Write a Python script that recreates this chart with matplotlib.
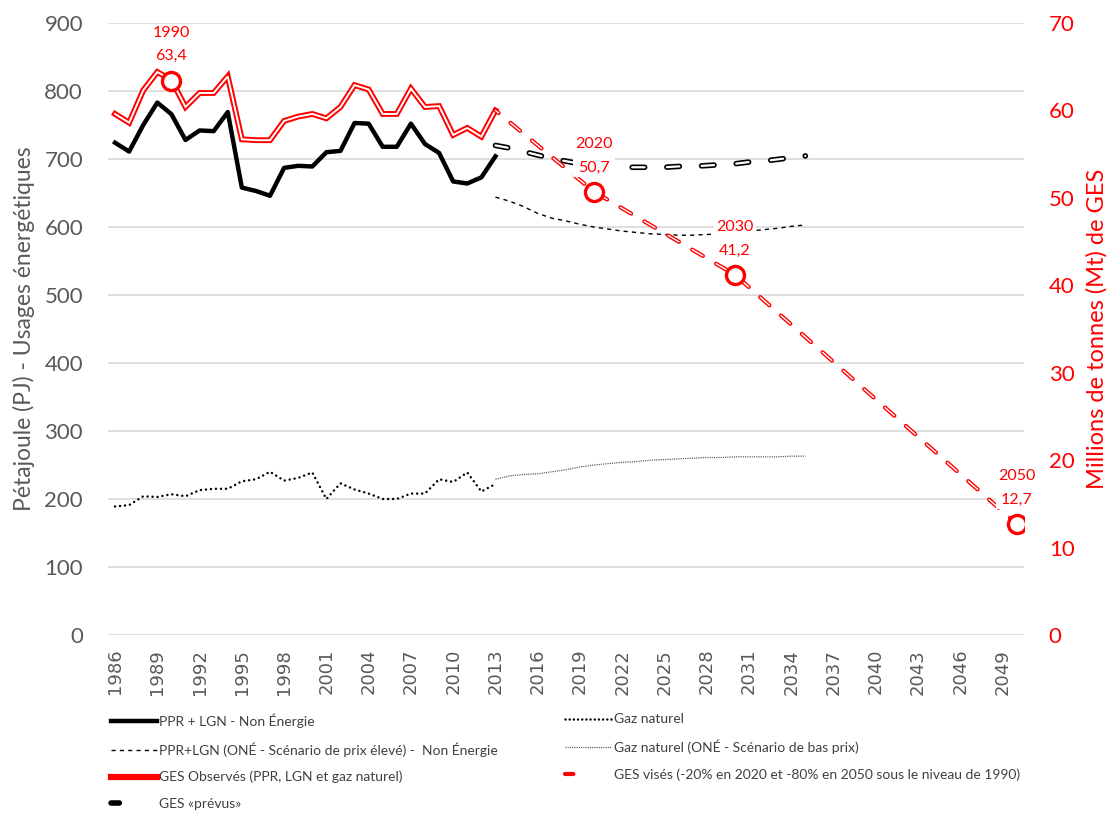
import numpy as np
import matplotlib
matplotlib.use("Agg")
import matplotlib.pyplot as plt
from matplotlib.lines import Line2D
from matplotlib.legend_handler import HandlerTuple

plt.rcParams["lines.scale_dashes"] = False

# ---- data ----
years_obs = list(range(1986, 2014))
ppr_lgn = [724, 711, 750, 783, 766, 728, 742, 741, 769, 658, 653, 646, 687, 690, 689,
           710, 712, 753, 752, 718, 718, 752, 722, 709, 667, 664, 673, 704]
gaz = [189, 191, 204, 203, 207, 204, 213, 215, 215, 226, 229, 240, 227, 231, 239,
       200, 223, 214, 208, 200, 200, 208, 208, 229, 225, 239, 211, 222]
ges_obs = [59.6, 58.6, 62.3, 64.4, 63.5, 60.4, 62.0, 62.0, 63.9, 56.7, 56.6, 56.6, 58.8, 59.3,
           59.6, 59.1, 60.4, 62.9, 62.4, 59.6, 59.6, 62.5, 60.4, 60.5, 57.2, 58.0, 57.0, 60.0]

years_proj = list(range(2013, 2036))
ppr_lgn_one = [644, 638, 630, 620, 613, 609, 604, 600, 597, 594, 592, 590, 589, 588, 588,
               589, 590, 592, 594, 596, 598, 601, 603]
gaz_one = [229, 234, 236, 237, 240, 243, 247, 250, 252, 254, 255, 257, 258, 259, 260,
           261, 261, 262, 262, 262, 262, 263, 263]
ges_prevus = [56.0, 55.7, 55.3, 54.9, 54.5, 54.2, 53.9, 53.7, 53.6, 53.5, 53.5, 53.5, 53.5,
              53.6, 53.6, 53.7, 53.8, 53.9, 54.1, 54.2, 54.4, 54.6, 54.8]

years_cible = [2013, 2020, 2030, 2050]
ges_cible = [60.0, 50.7, 41.2, 12.7]

years_mark = [1990, 2020, 2030, 2050]
ges_mark = [63.4, 50.7, 41.2, 12.7]
mark_labels = ["63,4", "50,7", "41,2", "12,7"]

GRAY = "#595959"
RED = "#ff0000"

fig = plt.figure(figsize=(11.1, 8.17), dpi=100)
ax = fig.add_axes([0.0973, 0.2228, 0.825, 0.749])
ax2 = ax.twinx()

ax.set_xlim(1985.5, 2050.5)
ax.set_ylim(0, 900)
ax2.set_ylim(0, 70)
ax.set_yticks(range(0, 901, 100))
ax2.set_yticks(range(0, 71, 10))
ax.set_xticks(range(1986, 2050, 3))
ax.grid(axis="y", color="#d9d9d9", lw=1.2)
ax.set_axisbelow(True)
for a in (ax, ax2):
    for s in a.spines.values():
        s.set_visible(False)
    a.tick_params(length=0)
ax.tick_params(axis="x", labelrotation=90, labelsize=13, labelcolor=GRAY, pad=10)
ax.tick_params(axis="y", labelsize=16, labelcolor=GRAY, pad=18)
ax2.tick_params(axis="y", labelsize=16, labelcolor=RED, pad=18)
for t in ax.get_yticklabels() + ax2.get_yticklabels():
    t.set_family("Lato")
fig.text(24 / 1110, 1 - 329 / 817, "Pétajoule (PJ) - Usages énergétiques", rotation=90,
         ha="center", va="center", fontsize=16.5, color=GRAY, family="Lato")
fig.text(1097 / 1110, 1 - 329 / 817, "Millions de tonnes (Mt) de GES", rotation=90,
         ha="center", va="center", fontsize=17, color=RED, family="Lato")

# left axis series
ax.plot(years_obs, ppr_lgn, color="black", lw=3.2, solid_joinstyle="round", zorder=3)
ax.plot(years_obs, gaz, color="black", lw=1.8, ls=(0, (0.01, 3.6)),
        dash_capstyle="round", zorder=3)
ax.plot(years_proj, ppr_lgn_one, color="black", lw=1.0, ls=(0, (3, 3)), zorder=3)
ax.plot(years_proj, gaz_one, color="#555555", lw=0.9, ls=(0, (0.8, 0.8)), zorder=3)

# right axis series (double lines)
ax2.plot(years_obs, ges_obs, color=RED, lw=4.2, solid_joinstyle="miter", zorder=3)
ax2.plot(years_obs, ges_obs, color="white", lw=1.4, solid_joinstyle="miter", zorder=3)
dash_p = (0, (9, 16))
ax2.plot(years_proj, ges_prevus, color="black", lw=4.0, ls=dash_p,
         dash_capstyle="round", zorder=3)
ax2.plot(years_proj, ges_prevus, color="white", lw=1.6, ls=dash_p,
         dash_capstyle="round", zorder=3)
dash_c = (6, (9, 11))
ax2.plot(years_cible, ges_cible, color=RED, lw=3.0, ls=dash_c,
         dash_capstyle="round", zorder=3)
ax2.plot(years_cible, ges_cible, color="white", lw=1.0, ls=dash_c,
         dash_capstyle="round", zorder=3)
ax2.plot(years_mark, ges_mark, ls="none", marker="o", ms=13, mew=2.4,
         mec=RED, mfc="white", zorder=4)

for yr, v, lab in zip(years_mark, ges_mark, mark_labels):
    ax2.annotate(f"{yr}\n{lab}", xy=(yr, v), xytext=(0, 12.5), textcoords="offset points",
                 ha="center", va="bottom", color=RED, fontsize=11.5, family="Lato",
                 linespacing=1.85, zorder=5,
                 bbox=dict(boxstyle="square,pad=0.15", fc="white", ec="none"))

# legend
def dbl(col, lw_out, lw_in, ls="-"):
    return (Line2D([], [], color=col, lw=lw_out, ls=ls, dash_capstyle="round"),
            Line2D([], [], color="white", lw=lw_in, ls=ls, dash_capstyle="round"))

h1 = [Line2D([], [], color="black", lw=3.2),
      Line2D([], [], color="black", lw=1.0, ls=(0, (3, 3))),
      Line2D([], [], color=RED, lw=4.5),
      dbl("black", 4.0, 1.6, (0, (6, 14)))]
l1 = ["PPR + LGN - Non Énergie",
      "PPR+LGN (ONÉ - Scénario de prix élevé) -  Non Énergie",
      "GES Observés (PPR, LGN et gaz naturel)",
      "GES «prévus»"]
h2 = [Line2D([], [], color="black", lw=1.8, ls=(0, (0.01, 3.0)), dash_capstyle="round"),
      Line2D([], [], color="#555555", lw=0.9, ls=(0, (0.8, 0.8))),
      dbl(RED, 3.0, 1.0, (0, (6, 9)))]
l2 = ["Gaz naturel",
      "Gaz naturel (ONÉ - Scénario de bas prix)",
      "GES visés (-20% en 2020 et -80% en 2050 sous le niveau de 1990)"]
fprop = dict(family=["Liberation Sans Narrow", "Lato"], size=10)
for hs, ls_, x0 in ((h1, l1, 0.0885), (h2, l2, 0.498)):
    fig.legend(hs, ls_, loc="upper left", bbox_to_anchor=(x0, 0.142), frameon=False,
               prop=fprop, handlelength=3.3, handletextpad=0.2, labelspacing=1.02,
               labelcolor="#404040",
               handler_map={tuple: HandlerTuple(ndivide=None)})

fig.savefig("out.png", dpi=100)
